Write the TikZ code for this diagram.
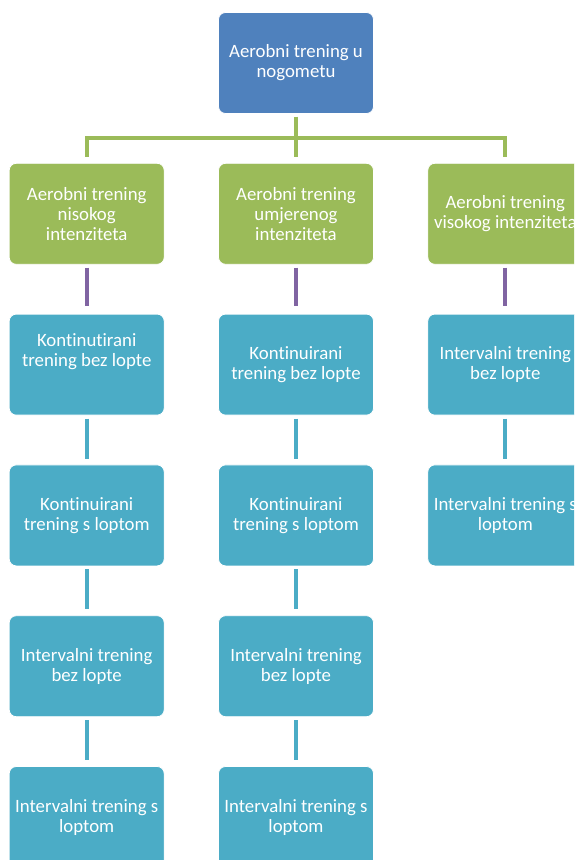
\documentclass[tikz,border=0pt]{standalone}
\usepackage{fontspec}
\setmainfont{Carlito}[Ligatures=NoCommon]
\usetikzlibrary{positioning}

\definecolor{topblue}{HTML}{4F81BD}
\definecolor{lvlgreen}{HTML}{9BBB59}
\definecolor{lvlteal}{HTML}{4BACC6}
\definecolor{lvlpurple}{HTML}{8064A2}

\tikzset{
    box/.style = {draw=white, line width=0.8pt, rounded corners=7pt,
                  minimum width=155pt, minimum height=101pt, inner sep=0pt,
                  align=center, text=white, font=\fontsize{18.8}{20}\selectfont},
    link/.style = {line width=4.2pt, shorten <=3pt, shorten >=6pt},
}

\begin{document}
\begin{tikzpicture}[x=1pt, y=1pt, node distance=49pt and 53.5pt]
            \clip (0, 0) rectangle (574, -860);

            % Wurzel
            \node[box, fill=topblue] (root) at (296, -63) {Aerobni trening u\\nogometu};

            % Intensitaeten
            \node[box, fill=lvlgreen, below=of root] (mid)  {Aerobni trening\\umjerenog\\intenziteta};
            \node[box, fill=lvlgreen, left=of mid]   (low)  {Aerobni trening\\nisokog\\intenziteta};
            \node[box, fill=lvlgreen, right=of mid]  (high) {Aerobni trening\\visokog intenziteta};

            % Spalte links
            \node[box, fill=lvlteal, below=of low] (l1) {Kontinutirani\\trening bez lopte\\[4pt]\strut};
            \node[box, fill=lvlteal, below=of l1]  (l2) {Kontinuirani\\trening s loptom};
            \node[box, fill=lvlteal, below=of l2]  (l3) {Intervalni trening\\bez lopte};
            \node[box, fill=lvlteal, below=of l3]  (l4) {Intervalni trening s\\loptom};

            % Spalte Mitte
            \node[box, fill=lvlteal, below=of mid] (m1) {Kontinuirani\\trening bez lopte};
            \node[box, fill=lvlteal, below=of m1]  (m2) {Kontinuirani\\trening s loptom};
            \node[box, fill=lvlteal, below=of m2]  (m3) {Intervalni trening\\bez lopte};
            \node[box, fill=lvlteal, below=of m3]  (m4) {Intervalni trening s\\loptom};

            % Spalte rechts
            \node[box, fill=lvlteal, below=of high] (r1) {Intervalni trening\\bez lopte};
            \node[box, fill=lvlteal, below=of r1]   (r2) {Intervalni trening s\\loptom};

            % Verbindungen oben
            \draw[link, lvlgreen] (root.south) -- ++(0,-24) -| (low.north);
            \draw[link, lvlgreen] (root.south) -- (mid.north);
            \draw[link, lvlgreen] (root.south) -- ++(0,-24) -| (high.north);

            % Verbindungen unten
            \draw[link, lvlpurple, shorten >=8pt] (low.south)  -- (l1.north);
            \draw[link, lvlpurple, shorten >=8pt] (mid.south)  -- (m1.north);
            \draw[link, lvlpurple, shorten >=8pt] (high.south) -- (r1.north);
            \foreach \a/\b in {l1/l2, l2/l3, l3/l4, m1/m2, m2/m3, m3/m4, r1/r2}
                \draw[link, lvlteal] (\a.south) -- (\b.north);
\end{tikzpicture}
\end{document}
